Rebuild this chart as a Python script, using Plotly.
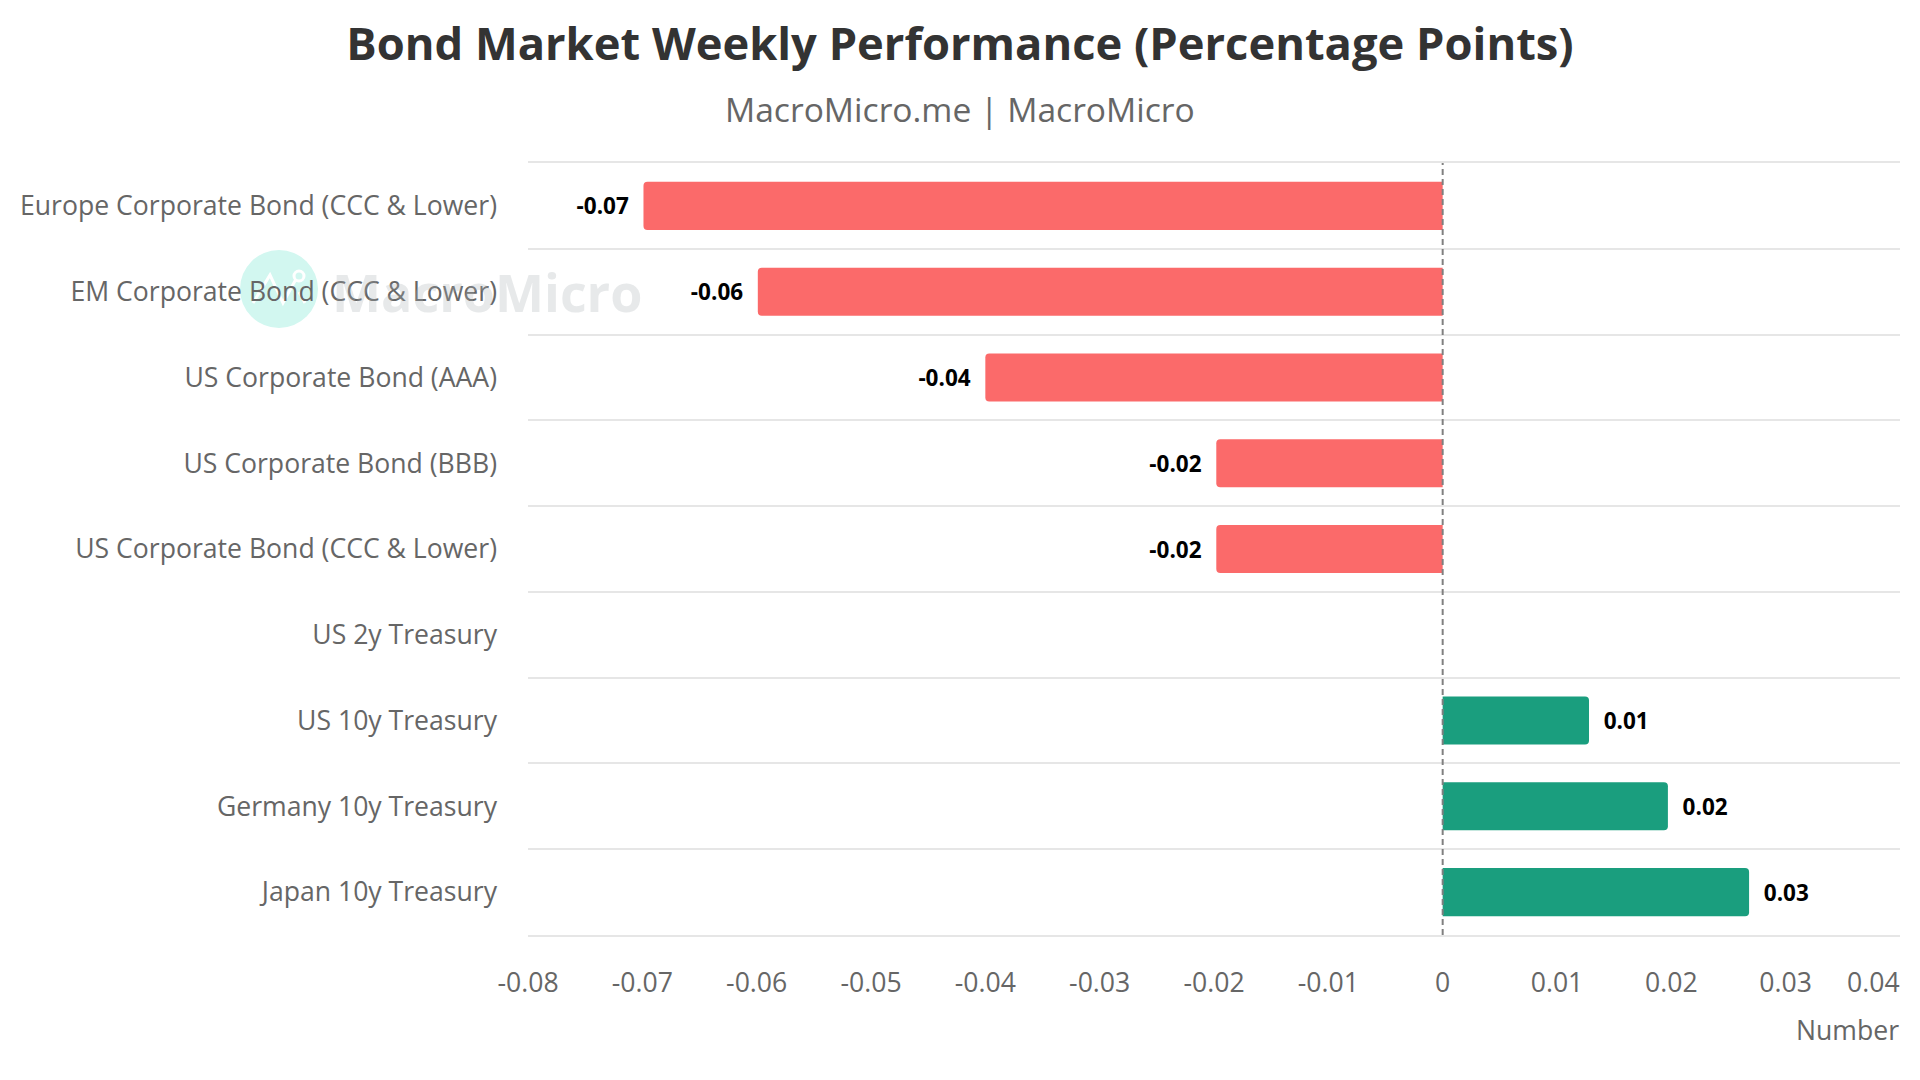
import plotly.graph_objects as go

categories = ["Europe Corporate Bond (CCC & Lower)", "EM Corporate Bond (CCC & Lower)", "US Corporate Bond (AAA)",
              "US Corporate Bond (BBB)", "US Corporate Bond (CCC & Lower)", "US 2y Treasury", "US 10y Treasury",
              "Germany 10y Treasury", "Japan 10y Treasury"]
values = [-0.0699, -0.0599, -0.0400, -0.0198, -0.0198, 0, 0.0128, 0.0197, 0.0268]
labels = ["-0.07", "-0.06", "-0.04", "-0.02", "-0.02", "", "0.01", "0.02", "0.03"]
tick_vals = [-0.08, -0.07, -0.06, -0.05, -0.04, -0.03, -0.02, -0.01, 0, 0.01, 0.02, 0.03]
tick_text = ["-0.08", "-0.07", "-0.06", "-0.05", "-0.04", "-0.03", "-0.02", "-0.01", "0", "0.01", "0.02", "0.03"]

W, H = 1904, 1064
OFF = 8
L, R, T, B = 528 - OFF, 1900 - OFF, 163 - OFF, 935 - OFF
FONT = "Open Sans"
RED, GREEN = "#FB6A6A", "#1A9E7E"
TICK = 26.6

def px(x): return (x - OFF - L) / (R - L)
def py(y): return 1 - (y - OFF - T) / (B - T)

colors = [RED if v < 0 else GREEN for v in values]
text = [("" if not t else (t + "\u00a0\u00a0" if v < 0 else "\u00a0\u00a0" + t)) for t, v in zip(labels, values)]

logo_path = "M {} {} L {} {} L {} {} L {} {} M {} {} L {} {}".format(
    px(253), py(303), px(270), py(275), px(283), py(303), px(296), py(279), px(299), py(292), px(305), py(303))

fig = go.Figure(go.Bar(
    y=categories, x=values, orientation="h", marker=dict(color=colors, line_width=0, cornerradius=4),
    text=text, textposition="outside", cliponaxis=False, textangle=0,
    textfont=dict(family=FONT, size=22.5, color="#000000", weight="bold"), width=0.56,
))

fig.update_layout(
    width=W, height=H, autosize=False, showlegend=False, plot_bgcolor="white", paper_bgcolor="white",
    margin=dict(l=L, r=W - R, t=T, b=H - B, autoexpand=False),
    font=dict(family=FONT, color="#666666"),
    title=dict(text="<b>Bond Market Weekly Performance (Percentage Points)</b>",
               font=dict(family=FONT, size=45.3, color="#333333"), x=952 / W, xref="container",
               xanchor="center", y=1 - (44 - OFF) / H, yanchor="middle"),
    xaxis=dict(range=[-0.08, 0.04], tickvals=tick_vals, ticktext=tick_text, showgrid=False, zeroline=False,
               showline=True, mirror=True, linecolor="#E6E6E6", linewidth=2,
               tickfont=dict(size=TICK, color="#666666"), ticks="outside", ticklen=23, tickcolor="rgba(0,0,0,0)"),
    yaxis=dict(categoryorder="array", categoryarray=categories, autorange="reversed", tickson="boundaries",
               showgrid=True, gridcolor="#E6E6E6", gridwidth=2, zeroline=False, showline=False,
               tickfont=dict(size=TICK, color="#666666"), ticks="", ticklabelstandoff=30),
    shapes=[
        dict(type="circle", xref="paper", yref="paper", x0=px(240), x1=px(318), y0=py(328), y1=py(250),
             fillcolor="#D2F7F0", line_width=0, layer="below"),
        dict(type="path", xref="paper", yref="paper", path=logo_path,
             line=dict(color="white", width=3), layer="below"),
        dict(type="circle", xref="paper", yref="paper", x0=px(294), x1=px(304), y0=py(281), y1=py(271),
             line=dict(color="white", width=3), fillcolor="#D2F7F0", layer="below"),
        dict(type="line", xref="x", yref="paper", x0=0, x1=0, y0=0, y1=1,
             line=dict(color="#808080", width=2, dash="6px,4px"), layer="above"),
    ],
    annotations=[
        dict(text="MacroMicro.me | MacroMicro", xref="paper", yref="paper", x=px(960), y=py(109), showarrow=False,
             font=dict(size=33.6, color="#666666"), xanchor="center", yanchor="middle"),
        dict(text="0.04", xref="x", yref="paper", x=0.04, y=py(982), showarrow=False,
             font=dict(size=TICK, color="#666666"), xanchor="right", yanchor="middle", xshift=2),
        dict(text="Number", xref="paper", yref="paper", x=1, y=py(1030), showarrow=False,
             font=dict(size=TICK, color="#666666"), xanchor="right", yanchor="middle", xshift=1),
        dict(text="<b>MacroMicro</b>", xref="paper", yref="paper", x=px(330), y=py(291), showarrow=False,
             font=dict(size=52, color="rgba(170,175,180,0.28)"), xanchor="left", yanchor="middle"),
    ],
)
fig.write_html("out.html")
